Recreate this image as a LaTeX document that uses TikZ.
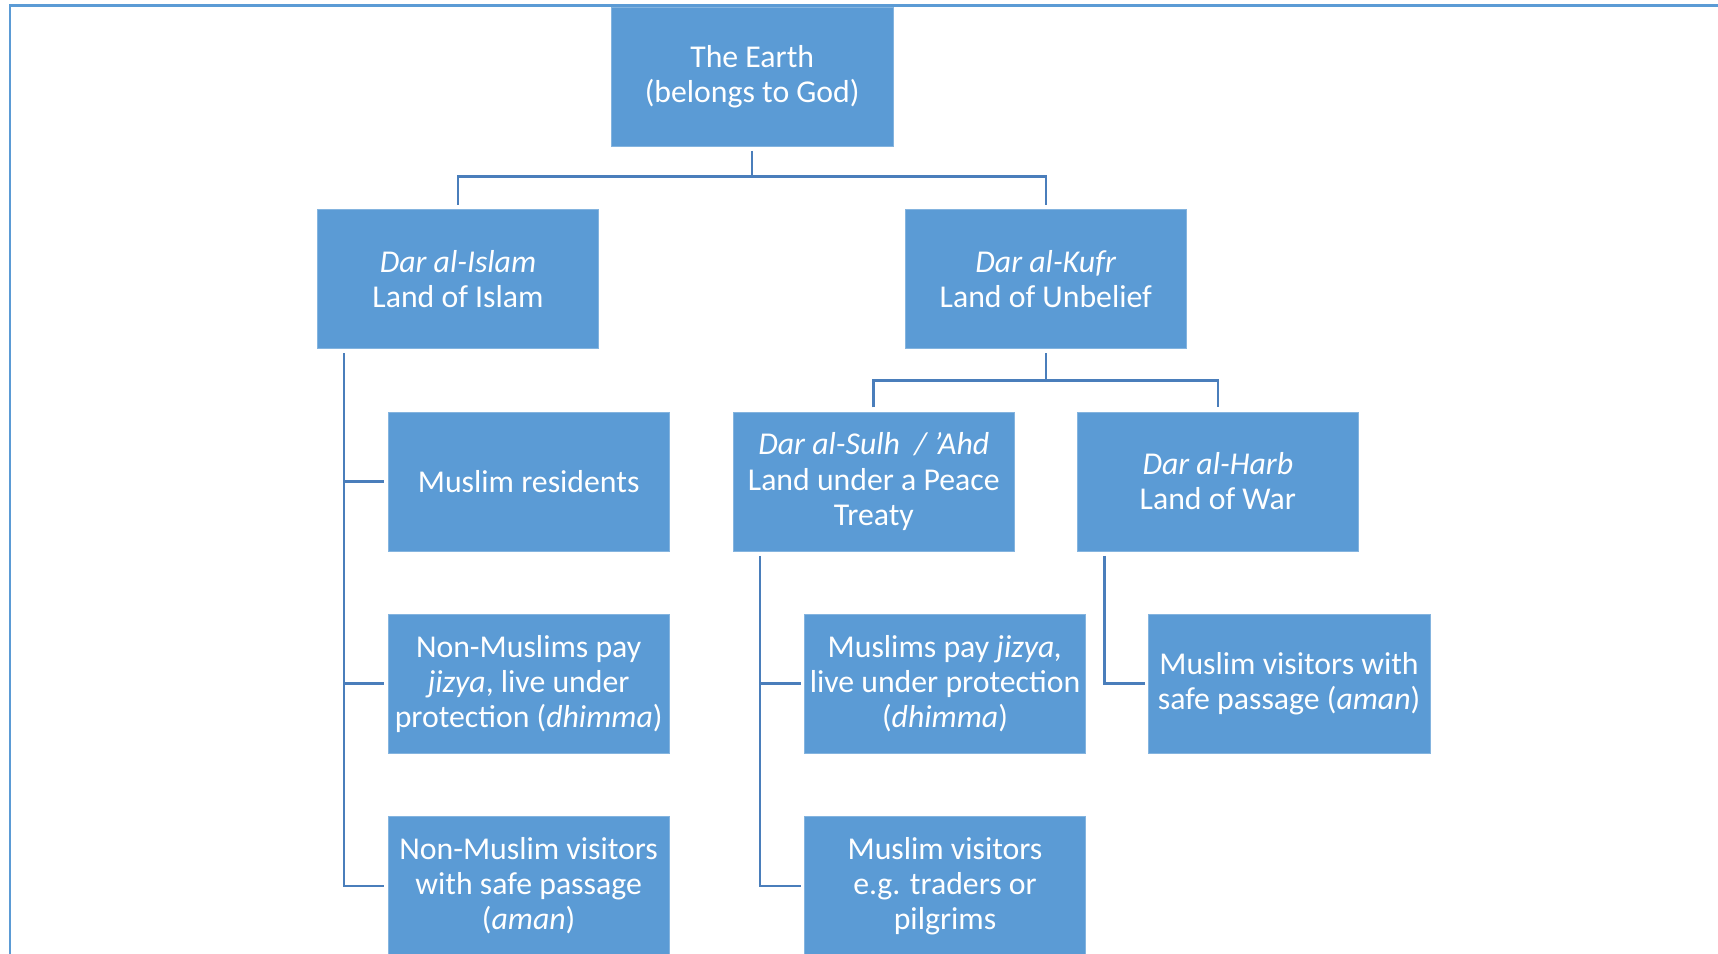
\documentclass[tikz,border=0pt]{standalone}
\usepackage{fontspec}
\setmainfont{Carlito}
\definecolor{boxblue}{HTML}{5B9BD5}
\definecolor{lineblue}{HTML}{4A7EBB}
\begin{document}
\begin{tikzpicture}[x=1pt,y=-1pt,
  box/.style={rectangle, fill=boxblue, draw=boxblue!75!white, line width=0.6pt,
    minimum width=257pt, minimum height=127pt, inner sep=0pt, text=white,
    align=center, font=\fontsize{29}{32}\selectfont},
  conn/.style={draw=lineblue, line width=2.4pt}]
\useasboundingbox (0,0) rectangle (1568,870);
\clip (0,0) rectangle (1568,870);
\draw[boxblue, line width=2pt] (9,872) -- (9,5) -- (1570,5);

\node[box] (earth)  at (686.5,70)   {The Earth\\(belongs to God)};
\node[box] (islam)  at (418,254.5)  {\textit{Dar al-Islam}\\Land of Islam};
\node[box] (kufr)   at (954.5,254.5){\textit{Dar al-Kufr}\\Land of Unbelief};
\node[box] (res)    at (482.5,439.5){Muslim residents};
\node[box] (sulh)   at (797.5,439.5){\textit{Dar al-Sulh\ \ / 'Ahd}\\Land under a Peace\\Treaty};
\node[box] (harb)   at (1111.5,439.5){\textit{Dar al-Harb}\\Land of War};
\node[box] (nmpay)  at (482.5,624)  {Non-Muslims pay\\\textit{jizya}, live under\\protection (\textit{dhimma})};
\node[box] (mpay)   at (862.5,624)  {Muslims pay \textit{jizya,}\\live under protection\\(\textit{dhimma})};
\node[box] (mvsafe) at (1176.5,624) {Muslim visitors with\\safe passage (\textit{aman})};
\node[box] (nmv)    at (482.5,808.5){Non-Muslim visitors\\with safe passage\\(\textit{aman})};
\node[box] (mv)     at (862.5,808.5){Muslim visitors\\e.g. traders or\\pilgrims};

\coordinate (b1) at (686.5,161);
\coordinate (b2) at (954.5,347);
\coordinate (si) at (314,0);
\coordinate (ss) at (693.5,0);
\coordinate (sh) at (1008,0);

% top level
\draw[conn] ([yshift=-4pt]earth.south) -- (b1);
\draw[conn] ([yshift=4pt]islam.north) |- (b1) -| ([yshift=4pt]kufr.north);
% kufr split
\draw[conn] ([yshift=-4pt]kufr.south) -- (b2);
\draw[conn] ([yshift=4pt]sulh.north) |- (b2) -| ([yshift=4pt]harb.north);
% islam children
\draw[conn] ([yshift=-4pt]islam.south -| si) |- ([xshift=-3pt]nmv.west);
\draw[conn] (si |- res.west) -- ([xshift=-3pt]res.west);
\draw[conn] (si |- nmpay.west) -- ([xshift=-3pt]nmpay.west);
% sulh children
\draw[conn] ([yshift=-4pt]sulh.south -| ss) |- ([xshift=-3pt]mv.west);
\draw[conn] (ss |- mpay.west) -- ([xshift=-3pt]mpay.west);
% harb child
\draw[conn] ([yshift=-4pt]harb.south -| sh) |- ([xshift=-3pt]mvsafe.west);
\end{tikzpicture}
\end{document}
